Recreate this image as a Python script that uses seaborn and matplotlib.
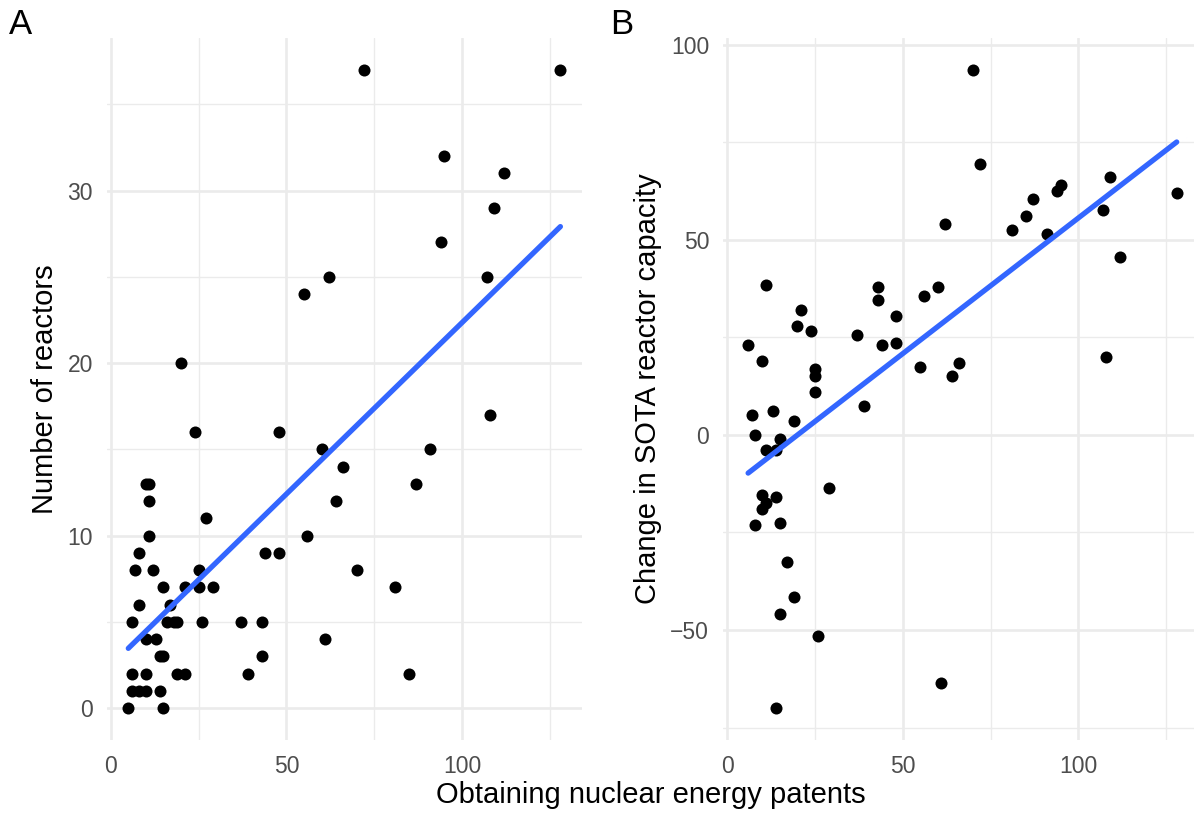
import matplotlib
matplotlib.use("Agg")
import matplotlib.pyplot as plt
from matplotlib.ticker import FixedLocator
import seaborn as sns
import pandas as pd

# ---------------- data ----------------
patents_a = [5, 6, 6, 6, 7, 8, 8, 8, 10, 10, 10, 10, 11, 11, 11, 12, 13, 14, 14, 15, 15, 15,
             16, 17, 18, 19, 19, 20, 21, 21, 24, 25, 25, 26, 27, 29, 37, 39, 43, 43, 44, 48,
             48, 55, 56, 60, 61, 62, 64, 66, 70, 72, 81, 85, 87, 91, 94, 95, 107, 108, 109,
             112, 128]
reactors = [0, 5, 2, 1, 8, 9, 6, 1, 13, 4, 2, 1, 13, 12, 10, 8, 4, 3, 1, 7, 3, 0,
            5, 6, 5, 5, 2, 20, 7, 2, 16, 8, 7, 5, 11, 7, 5, 2, 5, 3, 9, 16,
            9, 24, 10, 15, 4, 25, 12, 14, 8, 37, 7, 2, 13, 15, 27, 32, 25, 17, 29,
            31, 37]

patents_b = [6, 7, 8, 8, 10, 10, 10, 11, 11, 11, 13, 14, 14, 14, 15, 15, 15, 17, 19, 19,
             20, 21, 24, 25, 25, 25, 26, 29, 37, 39, 43, 43, 44, 48, 48, 55, 56, 60, 61, 62,
             64, 66, 70, 72, 81, 85, 87, 91, 94, 95, 107, 108, 109, 112, 128]
capacity_change = [23, 5, 0, -23, 19, -15.5, -19, 38.5, -4, -17.5, 6, -4, -16, -70, -1, -22.5,
                   -46, -32.5, 3.5, -41.5, 28, 32, 26.5, 17, 15, 11, -51.5, -13.5, 25.5, 7.5,
                   38, 34.5, 23, 30.5, 23.5, 17.5, 35.5, 38, -63.5, 54, 15, 18.5, 93.5, 69.5,
                   52.5, 56, 60.5, 51.5, 62.5, 64, 57.5, 20, 66, 45.5, 62]

x_major = [0, 50, 100]
x_minor = [25, 75, 125]
ya_major = [0, 10, 20, 30]
ya_minor = [5, 15, 25, 35]
yb_major = [-50, 0, 50, 100]
yb_minor = [-75, -25, 25, 75]

x_title = "Obtaining nuclear energy patents"
ya_title = "Number of reactors"
yb_title = "Change in SOTA reactor capacity"

df_a = pd.DataFrame({"patents": patents_a, "reactors": reactors})
df_b = pd.DataFrame({"patents": patents_b, "capacity": capacity_change})

# ---------------- style ----------------
sns.set_style("white")
plt.rcParams["font.family"] = ["Liberation Sans", "DejaVu Sans"]
plt.rcParams["axes.unicode_minus"] = True

W, H = 1194, 814
fig = plt.figure(figsize=(W / 100, H / 100), dpi=100)

def px_rect(left, top, right, bottom):
    return [left / W, 1 - bottom / H, (right - left) / W, (bottom - top) / H]

ax_a = fig.add_axes(px_rect(106.7, 38, 582, 740))
ax_b = fig.add_axes(px_rect(723, 38, 1198.3, 740))

GRID = "#EBEBEB"
BLUE = "#3366FF"

def style_axes(ax, xlim, ylim, ymaj, ymin):
    ax.set_xlim(*xlim)
    ax.set_ylim(*ylim)
    ax.xaxis.set_major_locator(FixedLocator(x_major))
    ax.xaxis.set_minor_locator(FixedLocator(x_minor))
    ax.yaxis.set_major_locator(FixedLocator(ymaj))
    ax.yaxis.set_minor_locator(FixedLocator(ymin))
    ax.grid(which="major", color=GRID, linewidth=1.9)
    ax.grid(which="minor", color=GRID, linewidth=1.0)
    ax.set_axisbelow(True)
    for s in ax.spines.values():
        s.set_visible(False)
    ax.tick_params(which="both", length=0, labelsize=16.5, labelcolor="#4D4D4D")
    ax.tick_params(axis="x", pad=10.5)
    ax.tick_params(axis="y", pad=10)
    ax.set_xlabel("")
    ax.set_facecolor("white")

scatter_kws = dict(s=75, color="black", linewidths=0, alpha=1)
line_kws = dict(color=BLUE, linewidth=3.8)

sns.regplot(data=df_a, x="patents", y="reactors", ax=ax_a, ci=None,
            scatter_kws=scatter_kws, line_kws=line_kws)
sns.regplot(data=df_b, x="patents", y="capacity", ax=ax_b, ci=None,
            scatter_kws=scatter_kws, line_kws=line_kws)

style_axes(ax_a, (-1.15, 134.15), (-1.85, 38.85), ya_major, ya_minor)
style_axes(ax_b, (-1.15, 134.15), (-78.2, 101.7), yb_major, yb_minor)

ax_a.set_ylabel(ya_title, fontsize=21, color="black")
ax_a.yaxis.set_label_coords(-0.100, 0.5)
ax_b.set_ylabel(yb_title, fontsize=21, color="black")
ax_b.yaxis.set_label_coords(-0.128, 0.5)

fig.text(651 / W, 1 - 803.3 / H, x_title, ha="center", va="baseline", fontsize=21, color="black")
fig.text(9.3 / W, 1 - 34 / H, "A", ha="left", va="baseline", fontsize=25, color="black")
fig.text(610 / W, 1 - 34 / H, "B", ha="left", va="baseline", fontsize=25, color="black")

fig.savefig("out.png", dpi=100, facecolor="white")
